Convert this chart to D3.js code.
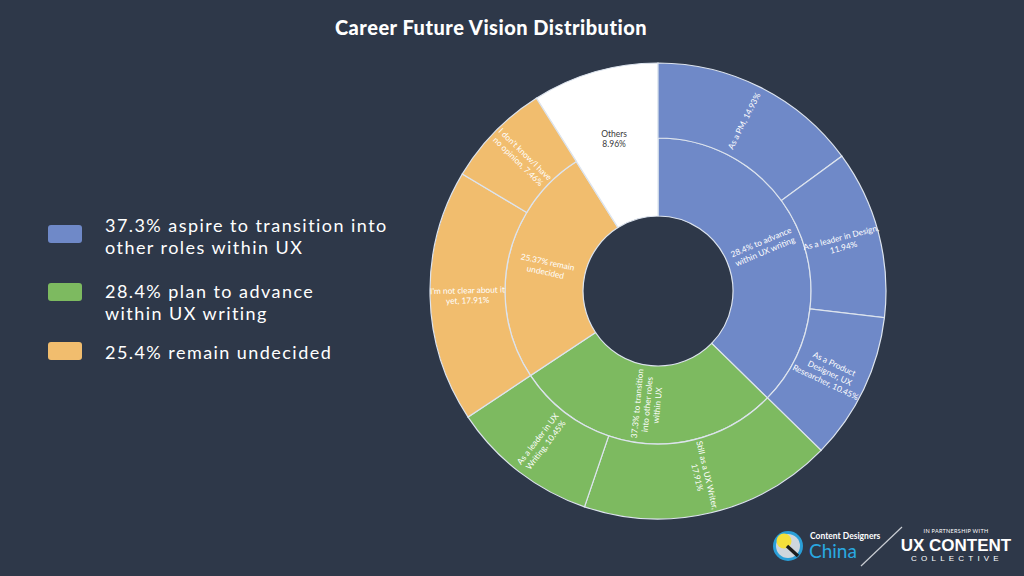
<!DOCTYPE html>
<html><head><meta charset="utf-8">
<script src="https://cdn.jsdelivr.net/npm/d3@7"></script>
<style>
html,body{margin:0;padding:0;background:#2e3849;}
svg{display:block;}
</style></head>
<body>
<svg id="c" width="1024" height="576"></svg>
<script>
// ---- data ----
const groupNames = ["28.4% to advance within UX writing", "37.3% to transition into other roles within UX", "25.37% remain undecided", "Others"];
const groupLabelLines = [["28.4% to advance", "within UX writing"], ["37.3% to transition", "into other roles", "within UX"], ["25.37% remain", "undecided"], ["Others", "8.96%"]];
const groupColors = ["#6f89c8", "#7dba60", "#f1bd6e", "#ffffff"];
const leafGroup = [0, 0, 0, 1, 1, 2, 2];
const leafNames = ["As a PM", "As a leader in Design", "As a Product Designer, UX Researcher", "Still as a UX Writer", "As a leader in UX Writing", "I'm not clear about it yet", "I don't know/I have no opinion"];
const leafValues = [14.93, 11.94, 10.45, 17.91, 10.45, 17.91, 7.46];
const leafLabelLines = [["As a PM, 14.93%"], ["As a leader in Design,", "11.94%"], ["As a Product", "Designer, UX", "Researcher, 10.45%"], ["Still as a UX Writer,", "17.91%"], ["As a leader in UX", "Writing, 10.45%"], ["I'm not clear about it", "yet, 17.91%"], ["I don't know/I have", "no opinion, 7.46%"]];
const othersValue = 8.96;
const legendLabels = [["37.3% aspire to transition into", "other roles within UX"], ["28.4% plan to advance", "within UX writing"], ["25.4% remain undecided"]];
const legendColors = ["#6f89c8", "#7dba60", "#f1bd6e"];
const title = "Career Future Vision Distribution";

// ---- layout ----
const svg = d3.select("#c");
const W = 1024, H = 576;
const cx = 658, cy = 291;
const r0 = 75, r1 = 153, r2 = 228;

svg.append("rect").attr("width", W).attr("height", H).attr("fill", "#2e3849");

svg.append("text").attr("x", 491).attr("y", 35).attr("text-anchor", "middle")
  .attr("fill", "#ffffff").attr("font-family", "Lato").attr("font-weight", 900)
  .attr("font-size", 20).attr("letter-spacing", 0.5).text(title);

// group values: sum of leaves
const groupValues = groupNames.map((g, i) => i === 3 ? othersValue : d3.sum(leafValues.filter((v, j) => leafGroup[j] === i)));

const pie = d3.pie().sort(null).value(d => d).startAngle(0).endAngle(2 * Math.PI);
const gArcs = pie(groupValues);
const total = d3.sum(groupValues);
const ang = d3.scaleLinear().domain([0, total]).range([0, 2 * Math.PI]);
let acc = 0;
const lArcs = leafValues.map((v, i) => { const a = { startAngle: ang(acc), endAngle: ang(acc + v), i }; acc += v; return a; });

const chart = svg.append("g").attr("transform", `translate(${cx},${cy})`);
const innerArc = d3.arc().innerRadius(r0).outerRadius(r1);
const fullArc = d3.arc().innerRadius(r0).outerRadius(r2);
const outerArc = d3.arc().innerRadius(r1).outerRadius(r2);
const stroke = "#dde4ee";

chart.selectAll("path.inner").data(gArcs).join("path").attr("class", "inner")
  .attr("d", (d, i) => i === 3 ? fullArc(d) : innerArc(d))
  .attr("fill", (d, i) => groupColors[i]).attr("stroke", stroke).attr("stroke-width", 1.2);

chart.selectAll("path.outer").data(lArcs).join("path").attr("class", "outer")
  .attr("d", outerArc).attr("fill", d => groupColors[leafGroup[d.i]])
  .attr("stroke", stroke).attr("stroke-width", 1.2);

function rotFor(mid) {
  let rot = mid * 180 / Math.PI - 90;
  if (rot > 90) rot -= 180;
  return rot;
}
function label(lines, mid, r, rot, color, size) {
  const x = Math.sin(mid) * r, y = -Math.cos(mid) * r;
  const lh = size * 1.22;
  const t = chart.append("text").attr("transform", `translate(${x},${y}) rotate(${rot})`)
    .attr("text-anchor", "middle").attr("fill", color).attr("font-family", "Lato")
    .attr("font-size", size);
  lines.forEach((ln, k) => {
    t.append("tspan").attr("x", 0).attr("y", (k - (lines.length - 1) / 2) * lh + size * 0.35).text(ln);
  });
}
gArcs.forEach((d, i) => {
  const mid = (d.startAngle + d.endAngle) / 2;
  if (i === 3) label(groupLabelLines[i], mid, 158, 0, "#3a3a3a", 8.5);
  else label(groupLabelLines[i], mid, (r0 + r1) / 2, rotFor(mid), "#ffffff", 8.3);
});
lArcs.forEach(d => {
  const mid = (d.startAngle + d.endAngle) / 2;
  label(leafLabelLines[d.i], mid, (r1 + r2) / 2, rotFor(mid), "#ffffff", 8.3);
});

// ---- legend ----
const swatchY = [225, 283, 342];
const baselines = [[232, 254], [298, 320], [359]];
const leg = svg.append("g");
legendLabels.forEach((lines, i) => {
  leg.append("rect").attr("x", 48).attr("y", swatchY[i]).attr("width", 34).attr("height", 18)
    .attr("rx", 3).attr("fill", legendColors[i]);
  lines.forEach((ln, k) => {
    leg.append("text").attr("fill", "#ffffff").attr("font-family", "Lato").attr("font-size", 18)
      .attr("letter-spacing", 1.45).attr("x", 105).attr("y", baselines[i][k]).text(ln);
  });
});

// ---- logos ----
const lg = svg.append("g");
lg.append("circle").attr("cx", 788).attr("cy", 546).attr("r", 15).attr("fill", "#2a9fd8");
lg.append("circle").attr("cx", 788).attr("cy", 546).attr("r", 12).attr("fill", "#cfd6dd");
lg.append("circle").attr("cx", 784).attr("cy", 541).attr("r", 7.5).attr("fill", "#f5e03a");
lg.append("line").attr("x1", 787).attr("y1", 546).attr("x2", 798).attr("y2", 556).attr("stroke", "#1d1d1d").attr("stroke-width", 3.5);
lg.append("text").attr("x", 810).attr("y", 539).attr("fill", "#ffffff").attr("font-family", "Lato").attr("font-weight", 700).attr("font-size", 8.5).text("Content Designers");
lg.append("text").attr("x", 809).attr("y", 558).attr("fill", "#29a9e1").attr("font-family", "Lato").attr("font-size", 19).text("China");
lg.append("line").attr("x1", 861).attr("y1", 566).attr("x2", 902).attr("y2", 527).attr("stroke", "#c9cdd3").attr("stroke-width", 1.2);
lg.append("text").attr("x", 956).attr("y", 533).attr("text-anchor", "middle").attr("fill", "#ffffff").attr("font-family", "Lato").attr("font-size", 5.5).attr("letter-spacing", 0.3).text("IN PARTNERSHIP WITH");
lg.append("text").attr("x", 956).attr("y", 551).attr("text-anchor", "middle").attr("fill", "#ffffff").attr("font-family", "Liberation Sans").attr("font-weight", 700).attr("font-size", 17).text("UX CONTENT");
lg.append("text").attr("x", 957).attr("y", 561).attr("text-anchor", "middle").attr("fill", "#ffffff").attr("font-family", "Liberation Sans").attr("font-size", 8).attr("letter-spacing", 4.2).text("COLLECTIVE");
</script>
</body></html>
